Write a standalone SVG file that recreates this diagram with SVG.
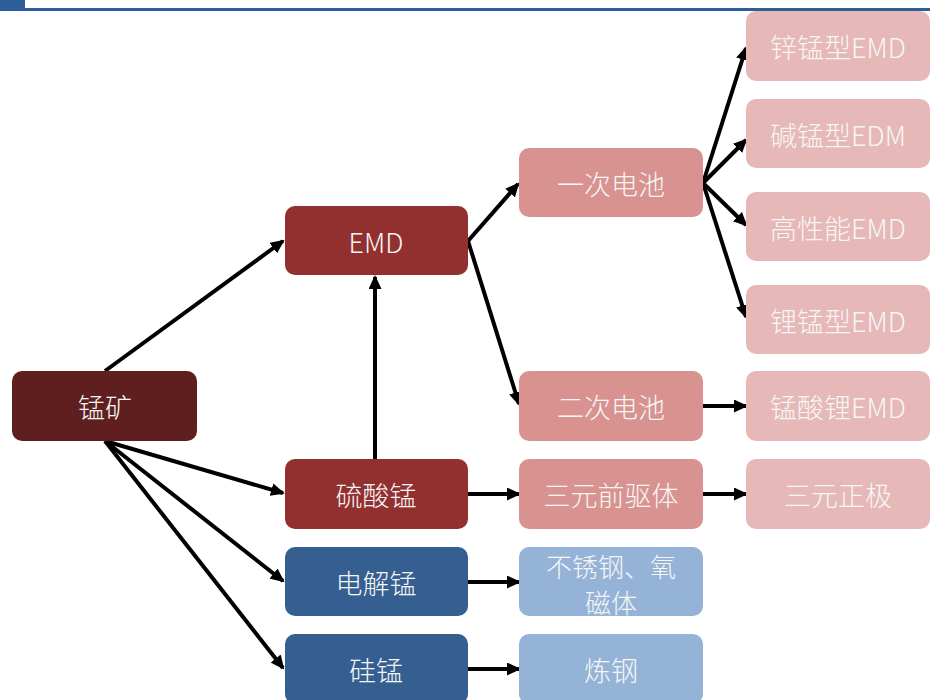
<svg xmlns="http://www.w3.org/2000/svg" width="930" height="700" viewBox="0 0 930 700">
<defs>
<marker id="ah" markerWidth="14" markerHeight="13" refX="12" refY="6.5" orient="auto" markerUnits="userSpaceOnUse">
<path d="M0,0 L14,6.5 L0,13 z" fill="#000"/>
</marker>
<style>
.t{font-family:"Noto Sans CJK SC","Liberation Sans",sans-serif;font-size:27px;font-weight:300;fill:#f6f6f6;text-anchor:middle;dominant-baseline:central}
.s{font-size:26px}
.c{stroke:#000;stroke-width:4;fill:none;marker-end:url(#ah)}
.d1{fill:#5f1f1f}.d2{fill:#922f2f}.b1{fill:#355e91}.b2{fill:#95b3d7}.p1{fill:#d89290}.p2{fill:#e6b8b7}
</style>
</defs>
<rect width="930" height="700" fill="#fff"/>
<rect x="0" y="0" width="25" height="8" fill="#2e5e9a"/>
<rect x="0" y="8" width="930" height="3" fill="#2e5e9a"/>
<g id="connectors">
<line class="c" x1="105" y1="371" x2="283" y2="241"/>
<line class="c" x1="105" y1="441" x2="283" y2="493"/>
<line class="c" x1="105" y1="441" x2="283" y2="581"/>
<line class="c" x1="105" y1="441" x2="283" y2="668"/>
<line class="c" x1="375" y1="459" x2="375" y2="277"/>
<line class="c" x1="468" y1="241" x2="518" y2="184"/>
<line class="c" x1="468" y1="241" x2="519" y2="404"/>
<line class="c" x1="703" y1="183" x2="746" y2="48"/>
<line class="c" x1="703" y1="183" x2="746" y2="140"/>
<line class="c" x1="703" y1="183" x2="746" y2="225"/>
<line class="c" x1="703" y1="183" x2="746" y2="317"/>
<line class="c" x1="703" y1="406" x2="746" y2="406"/>
<line class="c" x1="468" y1="494" x2="519" y2="494"/>
<line class="c" x1="703" y1="494" x2="746" y2="494"/>
<line class="c" x1="468" y1="582" x2="519" y2="582"/>
<line class="c" x1="468" y1="669" x2="519" y2="669"/>
</g>
<g id="n-mengkuang"><rect class="d1" x="12" y="371" width="185" height="70" rx="10"/><text class="t" x="105" y="406">锰矿</text></g>
<g id="n-emd"><rect class="d2" x="285" y="206" width="183" height="69" rx="10"/><text class="t" x="376" y="241">EMD</text></g>
<g id="n-liusuanmeng"><rect class="d2" x="285" y="459" width="183" height="70" rx="10"/><text class="t" x="376" y="494">硫酸锰</text></g>
<g id="n-dianjiemeng"><rect class="b1" x="285" y="547" width="183" height="69" rx="10"/><text class="t" x="376" y="582">电解锰</text></g>
<g id="n-guimeng"><rect class="b1" x="285" y="634" width="183" height="70" rx="10"/><text class="t" x="376" y="669">硅锰</text></g>
<g id="n-yici"><rect class="p1" x="519" y="148" width="184" height="69" rx="10"/><text class="t" x="611" y="183">一次电池</text></g>
<g id="n-erci"><rect class="p1" x="519" y="371" width="184" height="70" rx="10"/><text class="t" x="611" y="406">二次电池</text></g>
<g id="n-sanyuanqqt"><rect class="p1" x="519" y="459" width="184" height="70" rx="10"/><text class="t" x="611" y="494">三元前驱体</text></g>
<g id="n-buxiugang"><rect class="b2" x="519" y="547" width="184" height="69" rx="10"/><text class="t s" x="611" y="565">不锈钢、氧</text><text class="t s" x="611" y="601">磁体</text></g>
<g id="n-liangang"><rect class="b2" x="519" y="634" width="184" height="70" rx="10"/><text class="t" x="611" y="669">炼钢</text></g>
<g id="n-xinmeng"><rect class="p2" x="746" y="11" width="184" height="70" rx="10"/><text class="t" x="838" y="46">锌锰型EMD</text></g>
<g id="n-jianmeng"><rect class="p2" x="746" y="99" width="184" height="69" rx="10"/><text class="t" x="838" y="134">碱锰型EDM</text></g>
<g id="n-gaoxingneng"><rect class="p2" x="746" y="192" width="184" height="69" rx="10"/><text class="t" x="838" y="227">高性能EMD</text></g>
<g id="n-limeng"><rect class="p2" x="746" y="285" width="184" height="69" rx="10"/><text class="t" x="838" y="320">锂锰型EMD</text></g>
<g id="n-mengsuanli"><rect class="p2" x="746" y="371" width="184" height="70" rx="10"/><text class="t" x="838" y="406">锰酸锂EMD</text></g>
<g id="n-sanyuanzj"><rect class="p2" x="746" y="459" width="184" height="70" rx="10"/><text class="t" x="838" y="494">三元正极</text></g>
</svg>
